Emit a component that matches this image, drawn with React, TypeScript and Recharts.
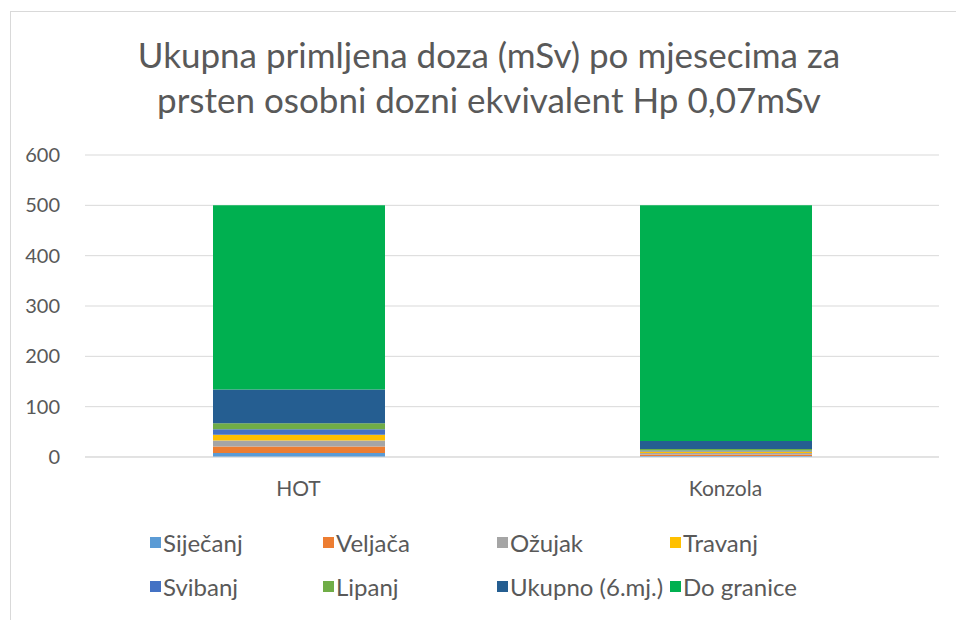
import React from "react";
import { BarChart, Bar, XAxis, YAxis, CartesianGrid } from "recharts";

const categories = ["HOT", "Konzola"];
const sijecanj = [8, 2];
const veljaca = [13, 3];
const ozujak = [12, 3];
const travanj = [11, 3];
const svibanj = [11, 2];
const lipanj = [12, 3];
const ukupno = [67, 16];
const doGranice = [366, 468];
const yTicks = [0, 100, 200, 300, 400, 500, 600];

const seriesDefs = [
  { key: "s1", name: "Siječanj", color: "#5B9BD5", values: sijecanj },
  { key: "s2", name: "Veljača", color: "#ED7D31", values: veljaca },
  { key: "s3", name: "Ožujak", color: "#A5A5A5", values: ozujak },
  { key: "s4", name: "Travanj", color: "#FFC000", values: travanj },
  { key: "s5", name: "Svibanj", color: "#4472C4", values: svibanj },
  { key: "s6", name: "Lipanj", color: "#70AD47", values: lipanj },
  { key: "s7", name: "Ukupno (6.mj.)", color: "#255E91", values: ukupno },
  { key: "s8", name: "Do granice", color: "#00B050", values: doGranice },
];

const data = categories.map((c, i) => {
  const row: any = { name: c };
  seriesDefs.forEach((s) => (row[s.key] = s.values[i]));
  return row;
});

const FONT = "Lato, 'Open Sans', sans-serif";
const TEXT = "#595959";

const legendCols = [150, 323, 497, 670];
const legendRows = [543, 587];

function LegendBlock() {
  return (
    <>
      {seriesDefs.map((s, i) => {
        const col = i % 4;
        const row = Math.floor(i / 4);
        return (
          <div
            key={s.key}
            style={{
              position: "absolute",
              left: legendCols[col],
              top: legendRows[row] - 16,
              height: 30,
              display: "flex",
              alignItems: "center",
              whiteSpace: "nowrap",
              fontFamily: FONT,
              fontSize: 24,
              color: TEXT,
            }}
          >
            <span style={{ display: "inline-block", width: 11, height: 11, background: s.color, marginRight: 2 }} />
            {s.name}
          </div>
        );
      })}
    </>
  );
}

export default function App() {
  return (
    <div style={{ position: "absolute", left: 0, top: 0, width: 956, height: 620, overflow: "hidden", background: "#fff" }}>
      <div style={{ position: "absolute", left: 10, top: 11, width: 960, height: 620, borderLeft: "1px solid #d9d9d9", borderTop: "1px solid #d9d9d9" }} />
      <div
        style={{
          position: "absolute",
          left: 0,
          top: 32,
          width: 978,
          textAlign: "center",
          fontFamily: FONT,
          fontSize: 35,
          lineHeight: "45px",
          color: TEXT,
          whiteSpace: "nowrap",
        }}
      >
        Ukupna primljena doza (mSv) po mjesecima za
        <br />
        prsten osobni dozni ekvivalent Hp 0,07mSv
      </div>
      <div style={{ position: "absolute", left: 0, top: 0 }}>
        <BarChart width={956} height={620} data={data} margin={{ top: 155, right: 17, bottom: 123, left: 0 }}>
          <CartesianGrid vertical={false} stroke="#d9d9d9" />
          <XAxis
            dataKey="name"
            axisLine={{ stroke: "#d9d9d9" }}
            tickLine={false}
            tickSize={0}
            tickMargin={24}
            tick={{ fill: TEXT, fontSize: 21, fontFamily: FONT }}
            height={40}
          />
          <YAxis
            width={85}
            domain={[0, 600]}
            ticks={yTicks}
            axisLine={false}
            tickLine={false}
            tickSize={0}
            tickMargin={25}
            tick={{ fill: TEXT, fontSize: 20, fontFamily: FONT }}
          />
          {seriesDefs.map((s) => (
            <Bar key={s.key} dataKey={s.key} name={s.name} stackId="a" fill={s.color} barSize={172} isAnimationActive={false} />
          ))}
        </BarChart>
      </div>
      <LegendBlock />
    </div>
  );
}
